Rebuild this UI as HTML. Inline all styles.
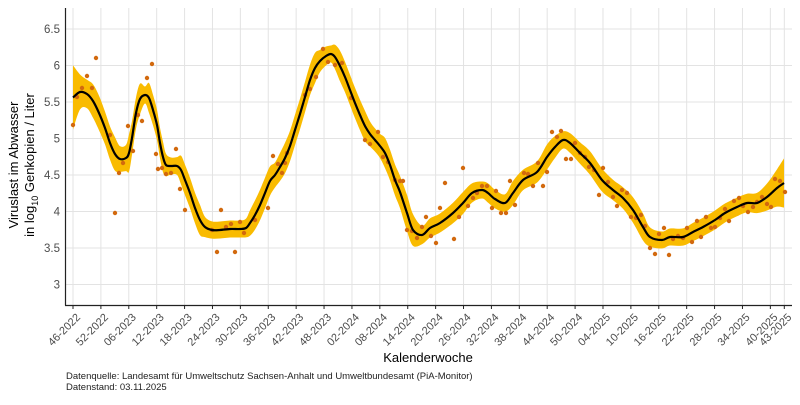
<!DOCTYPE html>
<html><head><meta charset="utf-8"><style>
body{margin:0;background:#fff}
svg text{font-family:"Liberation Sans",Arial,sans-serif}
</style></head><body>
<svg id="s" width="800" height="400" xmlns="http://www.w3.org/2000/svg">
<rect width="800" height="400" fill="#fff"/>
<g id="grid" stroke="#e3e3e3" stroke-width="1"></g>
<path id="band" fill="#f9bb00" stroke="none"/>
<g id="pts" fill="#d2690e"></g>
<path id="line" fill="none" stroke="#000" stroke-width="2.2"/>
<line x1="65.5" y1="8" x2="65.5" y2="305.5" stroke="#222" stroke-width="1.2"/>
<line x1="65" y1="305.5" x2="792" y2="305.5" stroke="#222" stroke-width="1.2"/>
<g id="yt" font-size="11.5" fill="#4d4d4d" text-anchor="end"></g>
<g id="xt" font-size="11" fill="#4d4d4d" text-anchor="end"></g>
<text x="428" y="362" font-size="13" text-anchor="middle" fill="#000">Kalenderwoche</text>
<text transform="translate(18,165) rotate(-90)" font-size="13" text-anchor="middle">Viruslast im Abwasser</text>
<text transform="translate(34,165) rotate(-90)" font-size="13" text-anchor="middle">in  log<tspan font-size="9" dy="4">10</tspan><tspan dy="-4">  Genkopien / Liter</tspan></text>
<text x="66" y="379" font-size="9.5" fill="#222">Datenquelle: Landesamt für Umweltschutz Sachsen-Anhalt und Umweltbundesamt (PiA-Monitor)</text>
<text x="66" y="390" font-size="9.5" fill="#222">Datenstand: 03.11.2025</text>
</svg>
<script>
const NS="http://www.w3.org/2000/svg";
function el(p,t,a,txt){const e=document.createElementNS(NS,t);for(const k in a)e.setAttribute(k,a[k]);if(txt!==undefined)e.textContent=txt;document.getElementById(p).appendChild(e);return e;}
const Y=v=>29+(6.5-v)*73;
[3,3.5,4,4.5,5,5.5,6,6.5].forEach(v=>{el("grid","line",{x1:65,x2:792,y1:Y(v),y2:Y(v)});el("yt","text",{x:60,y:Y(v)+4},String(v));});
const labs=["46-2022","52-2022","06-2023","12-2023","18-2023","24-2023","30-2023","36-2023","42-2023","48-2023","02-2024","08-2024","14-2024","20-2024","26-2024","32-2024","38-2024","44-2024","50-2024","04-2025","10-2025","16-2025","22-2025","28-2025","34-2025","40-2025","43-2025"];
const X=w=>73+w*4.649;
labs.forEach((l,i)=>{const w=i<26?i*6:153;const x=X(w);el("grid","line",{x1:x,x2:x,y1:8,y2:305});el("s","line",{x1:x,x2:x,y1:305,y2:309,stroke:"#222","stroke-width":1});el("xt","text",{transform:"translate("+(x+3)+",313) rotate(-45)",y:7},l);});
const c=[[73,97.5],[80,92],[87,94],[93,101],[99,113],[105,128],[110,143],[115,154],[120,159],[126,158],[129,153],[132,138],[136,113],[140,99],[145,95],[149,98],[153,110],[157,125],[160,143],[163,157],[166,165],[171,166],[177,166],[181,170],[185,180],[190,193],[195,208],[200,220],[205,227],[212,230],[220,230],[230,229],[240,229],[246,228],[250,223],[255,215],[260,205],[265,193],[270,181],[275,175],[280,167],[285,158],[290,146],[295,130],[300,114],[305,97],[310,80],[315,68],[320,61],[326,56],[331,54],[335,57],[340,66],[345,77],[350,90],[355,103],[360,115],[365,126],[370,134],[375,140],[380,146],[385,153],[390,165],[395,180],[400,192],[407,213],[413,230],[422,235],[430,228],[440,223],[453,213],[463,203],[472,193],[482,190],[488,193],[495,199],[505,203],[513,193],[523,180],[537,172],[547,157],[555,147],[563,140],[570,143],[580,153],[590,163],[602,180],[613,190],[623,198],[633,210],[643,227],[650,237],[662,240],[670,237],[683,237],[693,232],[703,227],[715,220],[725,213],[737,207],[747,203],[757,203],[767,197],[777,188],[784,183]];
function cr(p){let d="M"+p[0][0]+","+p[0][1];for(let i=0;i<p.length-1;i++){const p0=p[i-1]||p[i],p1=p[i],p2=p[i+1],p3=p[i+2]||p2;d+="C"+(p1[0]+(p2[0]-p0[0])/6)+","+(p1[1]+(p2[1]-p0[1])/6)+" "+(p2[0]-(p3[0]-p1[0])/6)+","+(p2[1]-(p3[1]-p1[1])/6)+" "+p2[0]+","+p2[1];}return d;}
document.getElementById("line").setAttribute("d",cr(c));
function sq(a){return a*a;}
const hw=x=>8.5+19*Math.exp(-(x-73)/9)+13*Math.exp(-(784-x)/12)+4*Math.exp(-sq((x-122)/8))+2*Math.exp(-sq((x-412)/10));
function w(i){const a=c[Math.max(0,i-1)],b=c[Math.min(c.length-1,i+1)];const m=(b[1]-a[1])/(b[0]-a[0]);return hw(c[i][0])*Math.min(1.8,Math.sqrt(1+m*m*0.6));}
const up=c.map((p,i)=>[p[0],p[1]-w(i)]),lo=c.map((p,i)=>[p[0],p[1]+w(i)]).reverse();
const du=cr(up),dl=cr(lo).replace(/^M/,"L");
document.getElementById("band").setAttribute("d",du+dl+"Z");
const P=[[73,125],[77,97],[82,88],[87,76],[92,88],[96,58],[110,135],[115,213],[119,173],[123,163],[128,126],[133,151],[138,115],[142,121],[147,78],[152,64],[156,154],[158,169],[162,168],[166,174],[171,173],[176,149],[180,189],[185,210],[212,230],[217,252],[221,210],[226,227],[231,224],[235,252],[240,222],[244,233],[255,220],[268,208],[273,156],[278,164],[282,173],[285,163],[287,153],[305,95],[310,89],[316,77],[323,49],[328,62],[335,65],[342,63],[351,98],[365,140],[370,144],[378,132],[383,157],[388,162],[395,180],[400,181],[403,181],[407,230],[412,231],[417,238],[422,227],[426,217],[431,236],[436,243],[440,208],[445,183],[454,239],[459,217],[463,168],[468,206],[473,198],[477,193],[482,186],[487,186],[492,208],[496,191],[501,213],[506,213],[510,181],[515,205],[524,173],[528,174],[533,186],[538,163],[543,186],[547,172],[552,132],[557,137],[561,131],[566,159],[571,159],[575,143],[580,153],[585,157],[589,167],[594,170],[599,195],[603,168],[608,182],[613,197],[617,206],[622,190],[627,193],[631,217],[636,218],[641,215],[645,226],[650,248],[655,254],[659,234],[664,228],[669,255],[673,239],[678,236],[683,238],[687,228],[692,242],[697,221],[701,237],[706,217],[711,228],[715,227],[720,218],[725,209],[729,221],[734,201],[739,198],[743,206],[748,212],[753,207],[757,202],[762,197],[767,204],[771,207],[775,179],[780,181],[785,192]];
P.forEach(p=>el("pts","circle",{cx:p[0],cy:p[1],r:2.2}));
</script>
</body></html>
